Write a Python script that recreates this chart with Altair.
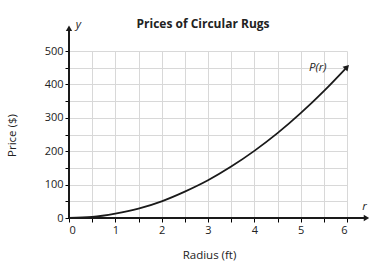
import altair as alt
import pandas as pd

# values
radius = [0, 0.5, 1, 1.5, 2, 2.5, 3, 3.5, 4, 4.5, 5, 5.5, 6]
price = [0, 3, 13, 28, 50, 79, 113, 154, 201, 254, 314, 380, 452]
x_ticks = [0, 0.5, 1, 1.5, 2, 2.5, 3, 3.5, 4, 4.5, 5, 5.5, 6]
y_ticks = [0, 50, 100, 150, 200, 250, 300, 350, 400, 450, 500]

FONT = "Open Sans"
df = pd.DataFrame({"r": radius, "p": price})

xs = alt.Scale(domain=[0, 6], nice=False, zero=False)
ys = alt.Scale(domain=[0, 500], nice=False, zero=False)

AX = alt.Axis(values=x_ticks, grid=True, gridColor="#d8d8d8", gridWidth=1,
              domain=False, tickColor="black", tickSize=4, tickWidth=1,
              labelExpr="datum.value % 1 == 0 ? format(datum.value, 'd') : ''",
              labelOverlap=False,
              labelFont=FONT, labelFontSize=11, labelColor="#222",
              labelPadding=2, titleFont=FONT, titleFontSize=11.5,
              titleFontWeight="normal", titleColor="#222",
              titleY=31, titleX=140)
AY = alt.Axis(values=y_ticks, grid=True, gridColor="#d8d8d8", gridWidth=1,
              domain=False, tickColor="black", tickSize=4, tickWidth=1,
              labelExpr="datum.value % 100 == 0 ? format(datum.value, 'd') : ''",
              labelOverlap=False,
              labelFont=FONT, labelFontSize=11, labelColor="#222",
              labelPadding=2, titleFont=FONT, titleFontSize=11.5,
              titleFontWeight="normal", titleColor="#222",
              titleX=-52, titleY=84)

def X(f):
    return alt.X(f, scale=xs, axis=AX, title="Radius (ft)")

def Y(f):
    return alt.Y(f, scale=ys, axis=AY, title="Price ($)")

base = alt.Chart(df)

curve = base.mark_line(color="#1a1a1a", strokeWidth=1.8, interpolate="monotone").encode(
    x=X("r:Q"), y=Y("p:Q"))

tip = alt.Chart(pd.DataFrame({"r": [radius[-1]], "p": [price[-1]]})).mark_point(
    shape="triangle-up", filled=True, color="#1a1a1a", size=45, angle=43, opacity=1
).encode(x=X("r:Q"), y=Y("p:Q"))

xaxis = alt.Chart(pd.DataFrame({"a": [0], "b": [6.4], "y": [0]})).mark_rule(
    color="#1a1a1a", strokeWidth=2).encode(x=X("a:Q"), x2="b:Q", y=Y("y:Q"))
yaxis = alt.Chart(pd.DataFrame({"a": [0], "b": [565], "x": [0]})).mark_rule(
    color="#1a1a1a", strokeWidth=2).encode(y=Y("a:Q"), y2="b:Q", x=X("x:Q"))

xarrow = alt.Chart(pd.DataFrame({"r": [6.42], "p": [0]})).mark_point(
    shape="triangle-right", filled=True, color="#1a1a1a", size=40, opacity=1
).encode(x=X("r:Q"), y=Y("p:Q"))
yarrow = alt.Chart(pd.DataFrame({"r": [0], "p": [568]})).mark_point(
    shape="triangle-up", filled=True, color="#1a1a1a", size=40, opacity=1
).encode(x=X("r:Q"), y=Y("p:Q"))

labels_df = pd.DataFrame({
    "r": [5.37, 0.2, 6.38],
    "p": [449, 578, 34],
    "t": ["P(r)", "y", "r"],
})
labels = alt.Chart(labels_df).mark_text(
    font=FONT, fontSize=11.5, fontStyle="italic", color="#222"
).encode(x=X("r:Q"), y=Y("p:Q"), text="t:N")

title = alt.Chart(pd.DataFrame({"t": ["Prices of Circular Rugs"]})).mark_text(
    font=FONT, fontSize=12, fontWeight="bold", color="#222"
).encode(x=alt.value(134), y=alt.value(-27), text="t:N")

chart = alt.layer(curve, tip, xaxis, yaxis, xarrow, yarrow, labels, title).properties(
    width=278, height=167,
    autosize=alt.AutoSizeParams(type="none"),
    padding={"left": 69, "top": 51, "right": 35, "bottom": 50},
).configure_view(stroke=None).configure_axis(labelOverlap=False)

chart.save("out.html", embed_options={"renderer": "svg", "actions": False})
